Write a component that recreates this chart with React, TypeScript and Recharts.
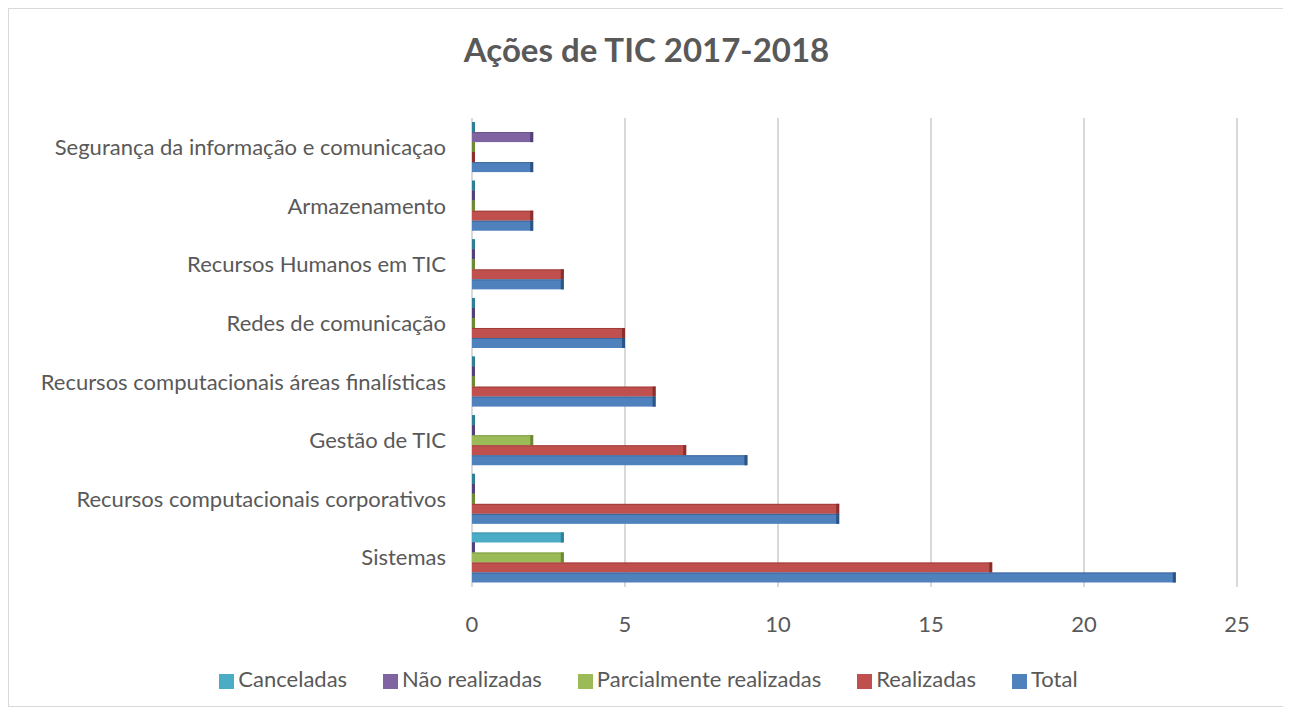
import React from "react";
import { BarChart, Bar, XAxis, YAxis, CartesianGrid, Legend } from "recharts";

const categories = [
  "Segurança da informação e comunicaçao",
  "Armazenamento",
  "Recursos Humanos em TIC",
  "Redes de comunicação",
  "Recursos computacionais áreas finalísticas",
  "Gestão de TIC",
  "Recursos computacionais corporativos",
  "Sistemas",
];
const canceladas = [0, 0, 0, 0, 0, 0, 0, 3];
const naoRealizadas = [2, 0, 0, 0, 0, 0, 0, 0];
const parcialmente = [0, 0, 0, 0, 0, 2, 0, 3];
const realizadas = [0, 2, 3, 5, 6, 7, 12, 17];
const total = [2, 2, 3, 5, 6, 9, 12, 23];
const xTicks = [0, 5, 10, 15, 20, 25];

const chartData = categories.map((name, i) => ({
  name,
  canceladas: canceladas[i],
  naoRealizadas: naoRealizadas[i],
  parcialmente: parcialmente[i],
  realizadas: realizadas[i],
  total: total[i],
}));

const FONT = "Lato, 'Open Sans', sans-serif";
const GRAY = "#595959";

// bar with a darker end cap, a rough take on Excel's 3D look
const Bar3D = (props: any) => {
  const { x, y, width, height, fill, edge } = props;
  if (width == null || height == null || width <= 0) return null;
  const cap = Math.min(3, width);
  return (
    <g>
      <rect x={x} y={y} width={width} height={height} fill={fill} />
      <rect x={x + width - cap} y={y} width={cap} height={height} fill={edge} />
      <rect x={x} y={y} width={width} height={1} fill={edge} opacity={0.6} />
    </g>
  );
};

const series = [
  { key: "canceladas", label: "Canceladas", color: "#4BACC6", edge: "#2f7f95" },
  { key: "naoRealizadas", label: "Não realizadas", color: "#8064A2", edge: "#54407a" },
  { key: "parcialmente", label: "Parcialmente realizadas", color: "#9BBB59", edge: "#6b8a33" },
  { key: "realizadas", label: "Realizadas", color: "#C0504D", edge: "#8a2f2d" },
  { key: "total", label: "Total", color: "#4F81BD", edge: "#2c5586" },
];

export default function App() {
  return (
    <div
      style={{
        position: "relative",
        width: 1277,
        height: 699,
        border: "1px solid #d9d9d9",
        boxSizing: "border-box",
        fontFamily: FONT,
      }}
    >
      <div
        style={{
          position: "absolute",
          top: 20,
          left: 0,
          width: "100%",
          textAlign: "center",
          fontSize: 33,
          fontWeight: 700,
          color: GRAY,
        }}
      >
        Ações de TIC 2017-2018
      </div>
      <BarChart
        width={1275}
        height={697}
        data={chartData}
        layout="vertical"
        barCategoryGap="7%"
        barGap={0}
        margin={{ top: 109, right: 47, left: 0, bottom: 37 }}
      >
        <CartesianGrid horizontal={false} stroke="#d9d9d9" strokeWidth={2} />
        <XAxis
          type="number"
          domain={[0, 25]}
          ticks={xTicks}
          axisLine={false}
          tickLine={false}
          tickSize={0}
          tickMargin={29}
          height={55}
          tick={{ fill: GRAY, fontSize: 22, fontFamily: FONT }}
        />
        <YAxis
          type="category"
          dataKey="name"
          width={463}
          axisLine={false}
          tickLine={false}
          tickSize={0}
          tickMargin={26}
          tick={{ fill: GRAY, fontSize: 22, fontFamily: FONT }}
        />
        <Legend
          verticalAlign="bottom"
          iconType="square"
          iconSize={15}
          wrapperStyle={{
            fontSize: 22,
            fontFamily: FONT,
            color: GRAY,
            bottom: 14,
            left: 30,
            width: 1255,
          }}
          formatter={(value: string) => <span style={{ color: GRAY, marginRight: 26 }}>{value}</span>}
        />
        {series.map((s) => (
          <Bar
            key={s.key}
            dataKey={s.key}
            name={s.label}
            fill={s.color}
            minPointSize={3}
            isAnimationActive={false}
            shape={(p: any) => <Bar3D {...p} fill={s.color} edge={s.edge} />}
          />
        ))}
      </BarChart>
    </div>
  );
}
